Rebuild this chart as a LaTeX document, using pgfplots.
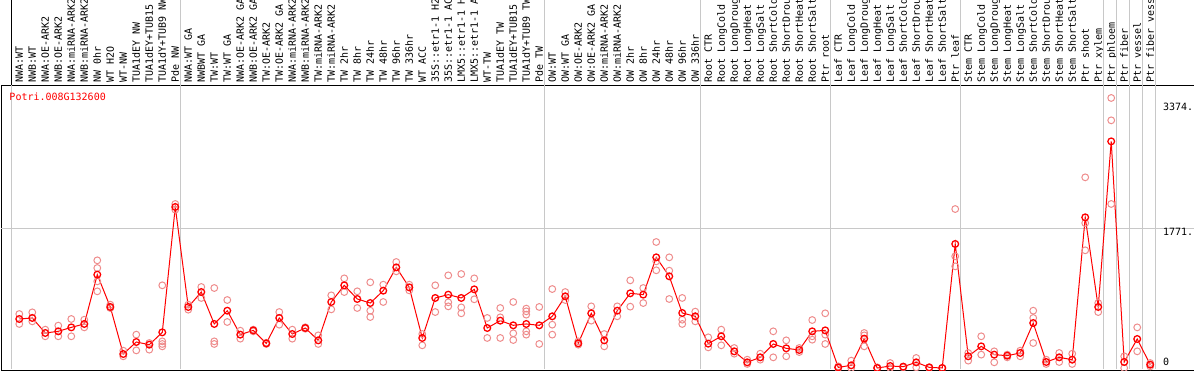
\documentclass[border=0pt]{standalone}
\usepackage{pgfplots}
\pgfplotsset{compat=1.18}
\usepackage{pgfplotstable}
\usepackage{fontspec}
\newfontfamily\monofont{DejaVu Sans Mono}
\definecolor{repc}{RGB}{238,140,140}
\definecolor{gridc}{RGB}{200,200,200}

\pgfplotstableread{
x y
0 620
1 633
2 443
3 464
4 514
5 557
6 1181
7 772
8 177
9 329
10 295
11 451
12 2037
13 772
14 961
15 557
16 725
17 422
18 476
19 312
20 633
21 430
22 506
23 350
24 835
25 1046
26 873
27 822
28 978
29 1273
30 1020
31 380
32 886
33 928
34 886
35 995
36 506
37 599
38 540
39 557
40 540
41 654
42 907
43 312
44 692
45 350
46 725
47 945
48 928
49 1400
50 1160
51 696
52 654
53 308
54 401
55 211
56 72
57 135
58 304
59 249
60 228
61 464
62 476
63 8
64 34
65 371
66 0
67 25
68 17
69 72
70 8
71 0
72 1569
73 148
74 274
75 169
76 156
77 190
78 569
79 76
80 135
81 105
82 1906
83 772
84 2867
85 76
86 367
87 42
}\means

\pgfplotstableread{
x y
0 683
0 557
1 704
1 590
2 485
2 401
3 536
3 401
4 620
4 401
5 611
5 514
6 1362
6 1265
6 1096
6 970
7 801
7 759
8 219
8 148
9 422
9 223
10 316
10 232
11 1046
11 337
11 304
11 274
12 2075
12 2003
13 801
13 738
14 1025
14 886
15 1012
15 337
15 304
16 860
16 582
17 472
17 371
18 485
18 464
19 320
19 304
20 708
20 548
21 485
21 371
22 515
22 497
23 413
23 304
24 919
24 742
25 1134
25 961
26 970
26 759
27 1084
27 725
27 645
28 1054
28 835
29 1341
29 1223
30 1054
30 982
31 430
31 287
32 1046
32 708
33 1172
33 831
33 780
34 1189
34 767
34 692
35 1134
35 869
36 633
36 380
37 759
37 641
37 380
38 835
38 439
38 354
39 751
39 717
39 675
39 464
39 422
40 772
40 304
41 999
41 548
41 422
42 961
42 860
43 337
43 295
44 780
44 599
45 430
45 274
46 780
46 654
47 1109
47 776
48 1012
48 822
49 1594
49 1349
49 1236
50 1400
50 1231
50 873
51 886
51 611
51 557
52 713
52 590
53 388
53 261
54 485
54 287
55 253
55 181
56 105
56 51
57 181
57 105
58 464
58 135
59 350
59 148
60 253
60 202
61 607
61 401
61 358
62 692
62 422
62 304
63 21
63 0
64 93
64 0
65 443
65 413
65 274
66 8
66 0
67 63
67 0
68 17
68 8
69 127
69 8
70 8
70 0
71 0
71 0
72 2011
72 1413
72 1286
73 190
73 93
74 401
74 169
75 211
75 72
76 169
76 135
77 219
77 148
78 725
78 633
78 316
79 105
79 51
80 190
80 76
81 181
81 51
82 2412
82 1834
82 1489
83 822
83 708
84 3416
84 3133
84 2075
85 148
85 0
86 514
86 211
87 63
87 21
}\reps

\begin{document}
\begin{tikzpicture}
\path (0,0) rectangle (1194pt,370pt);
\begin{scope}
\clip (0,0) rectangle (1194pt,370pt);
\begin{pgfinterruptboundingbox}
\begin{axis}[
  at={(1.5pt,0pt)}, anchor=south west,
  scale only axis, width=1193.5pt, height=285pt,
  xmin=-1.369, xmax=90.44, ymin=-25.3, ymax=3580,
  clip=false,
  axis line style={black, line width=1pt},
  ytick=\empty,
  xtick={0,...,87},
  major tick length=0pt,
  xticklabel pos=upper,
  xticklabel style={yshift=2pt, rotate=90, anchor=west, inner sep=0pt,
    text height=7.3pt, text depth=0pt, font=\monofont\fontsize{10}{12}\selectfont},
  xticklabels={NWA:WT,NWB:WT,NWA:OE-ARK2,NWB:OE-ARK2,NWA:miRNA-ARK2,NWB:miRNA-ARK2,NW 0hr,WT H2O,WT-NW,TUA1dEY NW,TUA1dEY+TUB15,TUA1dY+TUB9 NW,Pde NW,
    NWA:WT GA,NWBWT GA,TW:WT,TW:WT GA,NWA:OE-ARK2 GA,NWB:OE-ARK2 GA,TW:OE-ARK2,TW:OE-ARK2 GA,NWA:miRNA-ARK2,NWB:miRNA-ARK2,TW:miRNA-ARK2,TW:miRNA-ARK2,TW 2hr,TW 8hr,TW 24hr,TW 48hr,TW 96hr,TW 336hr,WT ACC,35S::etr1-1 H2,35S::etr1-1 AC,LMX5::etr1-1 H,LMX5::etr1-1 A,WT-TW,TUA1dEY TW,TUA1dEY+TUB15,TUA1dY+TUB9 TW,Pde TW,
    OW:WT,OW:WT GA,OW:OE-ARK2,OW:OE-ARK2 GA,OW:miRNA-ARK2,OW:miRNA-ARK2,OW 2hr,OW 8hr,OW 24hr,OW 48hr,OW 96hr,OW 336hr,
    Root CTR,Root LongCold,Root LongDroug,Root LongHeat,Root LongSalt,Root ShortCold,Root ShortDrou,Root ShortHeat,Root ShortSalt,Ptr root,
    Leaf CTR,Leaf LongCold,Leaf LongDroug,Leaf LongHeat,Leaf LongSalt,Leaf ShortCold,Leaf ShortDrou,Leaf ShortHeat,Leaf ShortSalt,Ptr leaf,
    Stem CTR,Stem LongCold,Stem LongDroug,Stem LongHeat,Stem LongSalt,Stem ShortCold,Stem ShortDrou,Stem ShortHeat,Stem ShortSalt,Ptr shoot,Ptr xylem,
    Ptr phloem,Ptr fiber,Ptr vessel,Ptr fiber vessel},
]
% horizontal gridline
\draw[gridc, line width=1pt] (axis cs:-1.369,1771) -- (axis cs:90.44,1771);
% group separators
\pgfplotsinvokeforeach{-0.62,12.38,40.38,52.38,62.38,72.38,83.38,84.38,85.38,86.38,87.38}{
  \draw[gridc, line width=1pt] (axis cs:#1,-12) -- (axis cs:#1,3580);
}
\pgfplotsinvokeforeach{12.38,40.38,52.38,62.38,72.38,83.38,84.38,85.38,86.38,87.38}{
  \draw[gridc, line width=1pt] (axis cs:#1,3580) -- (axis cs:#1,6000);
}
\draw[black, line width=1pt] (axis cs:-0.62,3580) -- (axis cs:-0.62,6000);
% replicates
\addplot[only marks, mark=o, mark size=3.4pt, repc, mark options={line width=1pt}] table[x=x,y=y] {\reps};
% means
\addplot[red, line width=1pt, mark=o, mark size=3.35pt, mark options={line width=1.3pt}] table[x=x,y=y] {\means};
% texts
\node[anchor=west, inner sep=0pt, text=red, font=\monofont\fontsize{10}{12}\selectfont] at (axis cs:-0.77,3432) {Potri.008G132600};
\node[anchor=west, inner sep=0pt, font=\monofont\fontsize{10}{12}\selectfont] at (axis cs:87.98,3302) {3374.};
\node[anchor=west, inner sep=0pt, font=\monofont\fontsize{10}{12}\selectfont] at (axis cs:87.98,1720) {1771.};
\node[anchor=west, inner sep=0pt, font=\monofont\fontsize{10}{12}\selectfont] at (axis cs:87.98,76) {0};
\end{axis}
\end{pgfinterruptboundingbox}
\end{scope}
\end{tikzpicture}
\end{document}
